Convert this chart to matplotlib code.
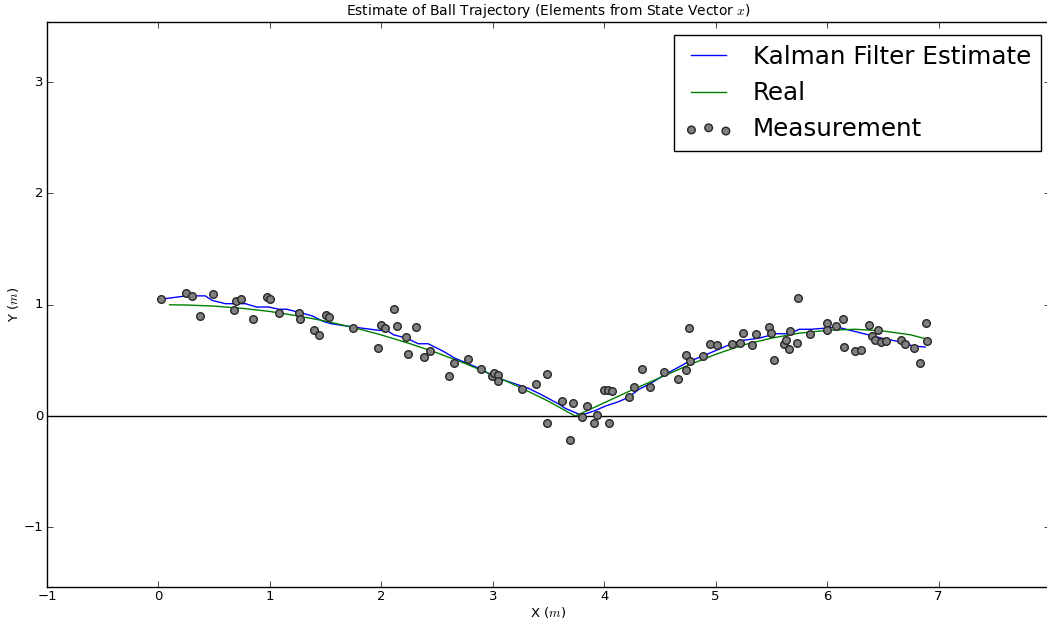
import numpy as np
import matplotlib
matplotlib.use('Agg')
import matplotlib.pyplot as plt

plt.style.use('classic')

# noisy position measurements
meas_x = [0.024, 0.25, 0.30, 0.37, 0.49, 0.68, 0.70, 0.745, 0.85, 0.97, 1.00, 1.08,
          1.265, 1.27, 1.40, 1.44, 1.505, 1.53, 1.75, 1.97, 2.00, 2.03, 2.115, 2.14,
          2.22, 2.24, 2.31, 2.385, 2.435, 2.61, 2.655, 2.78, 2.89, 2.99, 3.01, 3.05,
          3.05, 3.26, 3.39, 3.485, 3.485, 3.62, 3.69, 3.72, 3.80, 3.845, 3.91, 3.935,
          4.00, 4.03, 4.07, 4.045, 4.22, 4.265, 4.34, 4.41, 4.54, 4.66, 4.735, 4.735,
          4.76, 4.77, 4.89, 4.95, 5.01, 5.15, 5.22, 5.245, 5.33, 5.365, 5.48, 5.50,
          5.52, 5.615, 5.635, 5.66, 5.67, 5.73, 5.74, 5.85, 6.00, 6.00, 6.08, 6.145,
          6.155, 6.25, 6.30, 6.375, 6.40, 6.43, 6.46, 6.48, 6.53, 6.66, 6.70, 6.78,
          6.83, 6.89, 6.90]
meas_y = [1.05, 1.11, 1.08, 0.90, 1.10, 0.95, 1.03, 1.05, 0.87, 1.07, 1.05, 0.93,
          0.93, 0.87, 0.77, 0.73, 0.905, 0.89, 0.79, 0.61, 0.815, 0.79, 0.96, 0.81,
          0.71, 0.56, 0.80, 0.53, 0.585, 0.36, 0.475, 0.515, 0.42, 0.36, 0.39, 0.37,
          0.315, 0.24, 0.29, 0.38, -0.06, 0.14, -0.215, 0.12, -0.01, 0.09, -0.06, 0.01,
          0.235, 0.235, 0.23, -0.06, 0.175, 0.265, 0.42, 0.265, 0.40, 0.33, 0.55, 0.41,
          0.795, 0.495, 0.54, 0.65, 0.635, 0.645, 0.66, 0.745, 0.64, 0.735, 0.80, 0.75,
          0.50, 0.65, 0.68, 0.60, 0.76, 0.66, 1.06, 0.735, 0.84, 0.77, 0.805, 0.87,
          0.62, 0.585, 0.59, 0.815, 0.72, 0.68, 0.775, 0.67, 0.675, 0.685, 0.645, 0.61,
          0.48, 0.835, 0.675]

# true trajectory
real_x = [0.1, 0.25, 0.5, 0.75, 1.0, 1.25, 1.5, 1.75, 2.0, 2.25, 2.5, 2.75, 3.0, 3.25,
          3.5, 3.74, 4.0, 4.25, 4.5, 4.75, 5.0, 5.25, 5.5, 5.75, 6.0, 6.25, 6.5, 6.75, 6.9]
real_y = [1.0, 0.998, 0.988, 0.968, 0.94, 0.90, 0.853, 0.796, 0.729, 0.653, 0.568, 0.473,
          0.369, 0.256, 0.133, 0.0, 0.12, 0.235, 0.345, 0.455, 0.555, 0.64, 0.70, 0.745,
          0.77, 0.78, 0.765, 0.73, 0.69]

# filter output
kf_x = [0.02, 0.25, 0.42, 0.48, 0.60, 0.78, 0.88, 0.99, 1.08, 1.15, 1.27, 1.38, 1.48,
        1.55, 1.75, 1.98, 2.05, 2.11, 2.23, 2.33, 2.42, 2.56, 2.66, 2.78, 2.90, 3.02,
        3.23, 3.32, 3.44, 3.59, 3.65, 3.79, 3.83, 3.92, 4.01, 4.13, 4.22, 4.31, 4.41,
        4.54, 4.76, 4.91, 5.12, 5.24, 5.39, 5.54, 5.66, 5.75, 5.86, 5.98, 6.09, 6.13,
        6.25, 6.37, 6.49, 6.64, 6.73, 6.78, 6.88]
kf_y = [1.05, 1.08, 1.08, 1.04, 1.01, 1.01, 0.98, 0.98, 0.96, 0.96, 0.93, 0.90, 0.85,
        0.83, 0.80, 0.77, 0.77, 0.73, 0.70, 0.65, 0.65, 0.58, 0.52, 0.47, 0.42, 0.35,
        0.28, 0.25, 0.19, 0.11, 0.07, 0.01, 0.02, 0.05, 0.09, 0.13, 0.17, 0.24, 0.29,
        0.37, 0.49, 0.55, 0.64, 0.68, 0.70, 0.74, 0.74, 0.78, 0.78, 0.79, 0.80, 0.79,
        0.76, 0.73, 0.70, 0.67, 0.64, 0.63, 0.62]

fig = plt.figure(figsize=(10.47, 6.21), dpi=100, facecolor='white')
ax = fig.add_axes([47/1047, 34/621, 1003/1047, 565/621])

ax.plot(kf_x, kf_y, color='b', lw=1, label='Kalman Filter Estimate')
ax.plot(real_x, real_y, color='g', lw=1, label='Real')
ax.scatter(meas_x, meas_y, s=30, c='gray', edgecolors='0.15', lw=1,
           label='Measurement', zorder=3)
ax.axhline(0, color='k', lw=1)

ax.set_xlim(-1, 8)
ax.set_ylim(-1.535, 3.54)
ax.set_xticks(range(-1, 8))
ax.set_yticks([-1, 0, 1, 2, 3])
ax.tick_params(labelsize=9.5, pad=2.5)

ax.set_title('Estimate of Ball Trajectory (Elements from State Vector $x$)', fontsize=10)
ax.set_xlabel('X ($m$)', fontsize=9.5, labelpad=1)
ax.set_ylabel('Y ($m$)', fontsize=9.5, labelpad=2)

ax.legend(loc='upper right', bbox_to_anchor=(1041/1047, 1 - 35/621),
          bbox_transform=fig.transFigure, borderaxespad=0, fontsize=17.7,
          scatterpoints=3, fancybox=False)

fig.savefig('out.png', dpi=100, facecolor='white')
